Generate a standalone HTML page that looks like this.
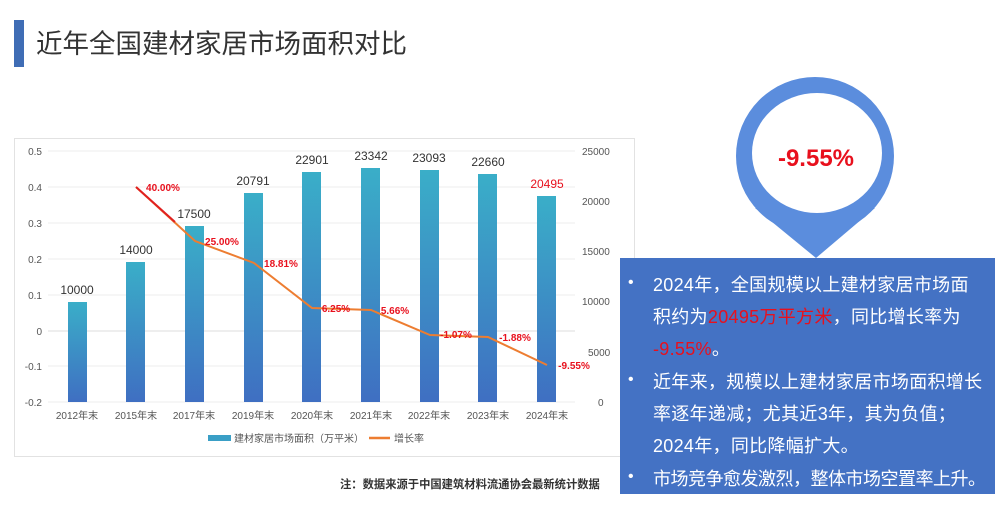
<!DOCTYPE html>
<html><head><meta charset="utf-8"><style>
body{margin:0;width:1003px;height:516px;background:#fff;overflow:hidden;position:relative;font-family:"Liberation Sans","Noto Sans CJK SC",sans-serif}
.t{position:absolute;left:36px;top:26px;font-size:26.5px;color:#333;line-height:36px;white-space:nowrap}
.bar{position:absolute;left:14px;top:20px;width:10px;height:47px;background:#3f6db5}
.box{position:absolute;left:620px;top:258px;width:375px;height:236px;background:#4472c4;color:#fff;font-size:18px}
.ln{position:absolute;left:33px;white-space:nowrap;letter-spacing:0.3px}
.bu{position:absolute;left:8px;font-size:16px}
.r{color:#e8101d}
.note{position:absolute;left:340px;top:476px;font-size:11.3px;font-weight:bold;color:#333;white-space:nowrap}
</style></head><body>
<div class="bar"></div>
<div class="t">近年全国建材家居市场面积对比</div>
<svg width="1003" height="516" style="position:absolute;left:0;top:0">
<defs><linearGradient id="g" x1="0" y1="0" x2="0" y2="1"><stop offset="0" stop-color="#3aaec8"/><stop offset="1" stop-color="#3f6fc2"/></linearGradient></defs>
<rect x="14.5" y="138.5" width="620" height="318" fill="#fff" stroke="#e2e2e2"/>
<g stroke="#ececec" stroke-width="1">
<line x1="48" x2="575" y1="151" y2="151"/><line x1="48" x2="575" y1="187" y2="187"/><line x1="48" x2="575" y1="223" y2="223"/><line x1="48" x2="575" y1="259" y2="259"/><line x1="48" x2="575" y1="295" y2="295"/><line x1="48" x2="575" y1="331" y2="331" stroke="#ddd"/><line x1="48" x2="575" y1="366" y2="366"/><line x1="48" x2="575" y1="402" y2="402"/>
</g>
<g font-size="10" fill="#555" text-anchor="end">
<text x="42" y="155">0.5</text><text x="42" y="191">0.4</text><text x="42" y="227">0.3</text><text x="42" y="263">0.2</text><text x="42" y="299">0.1</text><text x="42" y="335">0</text><text x="42" y="370">-0.1</text><text x="42" y="406">-0.2</text>
</g>
<g font-size="10" fill="#555" text-anchor="start">
<text x="582" y="155">25000</text><text x="582" y="205">20000</text><text x="582" y="255">15000</text><text x="582" y="305">10000</text><text x="588" y="356">5000</text><text x="598" y="406">0</text>
</g>
<g fill="url(#g)">
<rect x="68" y="302" width="19" height="100"/><rect x="126" y="262" width="19" height="140"/><rect x="185" y="226" width="19" height="176"/><rect x="244" y="193" width="19" height="209"/><rect x="302" y="172" width="19" height="230"/><rect x="361" y="168" width="19" height="234"/><rect x="420" y="170" width="19" height="232"/><rect x="478" y="174" width="19" height="228"/><rect x="537" y="196" width="19" height="206"/>
</g>
<g font-size="12" fill="#333" text-anchor="middle">
<text x="77" y="294">10000</text><text x="136" y="254">14000</text><text x="194" y="218">17500</text><text x="253" y="185">20791</text><text x="312" y="164">22901</text><text x="371" y="160">23342</text><text x="429" y="162">23093</text><text x="488" y="166">22660</text><text x="547" y="188" fill="#e8101d">20495</text>
</g>
<polyline fill="none" stroke="#ed7d31" stroke-width="2" points="136,187 195,241 254,263 312,308 371,310 430,335 488,337 547,365"/>
<polyline fill="none" stroke="#e02020" stroke-width="2" points="136,187 175,222"/>
<g font-size="10" fill="#e8101d" font-weight="bold" text-anchor="middle">
<text x="163" y="191">40.00%</text><text x="222" y="245">25.00%</text><text x="281" y="267">18.81%</text><text x="336" y="312">6.25%</text><text x="395" y="314">5.66%</text><text x="456" y="338">-1.07%</text><text x="515" y="341">-1.88%</text><text x="574" y="369">-9.55%</text>
</g>
<g font-size="10" fill="#555" text-anchor="middle">
<text x="77" y="419">2012年末</text><text x="136" y="419">2015年末</text><text x="194" y="419">2017年末</text><text x="253" y="419">2019年末</text><text x="312" y="419">2020年末</text><text x="371" y="419">2021年末</text><text x="429" y="419">2022年末</text><text x="488" y="419">2023年末</text><text x="547" y="419">2024年末</text>
</g>
<rect x="208" y="435" width="23" height="6" fill="#3a9fc6"/>
<text x="234" y="442" font-size="10" fill="#555">建材家居市场面积（万平米）</text>
<line x1="369" x2="390" y1="438" y2="438" stroke="#ed7d31" stroke-width="2.5"/>
<text x="394" y="442" font-size="10" fill="#555">增长率</text>
<circle cx="815" cy="156" r="79" fill="#5b8ddd"/>
<polygon points="755,208 875,208 816,258" fill="#5b8ddd"/>
<ellipse cx="817" cy="153" rx="65" ry="60" fill="#fff"/>
<text x="816" y="166" font-size="24" font-weight="bold" fill="#e8101d" text-anchor="middle">-9.55%</text>
</svg>
<div class="box">
<span class="bu" style="top:16px">•</span><div class="ln" style="top:13px">2024年，全国规模以上建材家居市场面</div>
<div class="ln" style="top:45px">积约为<span class="r">20495万平方米</span>，同比增长率为</div>
<div class="ln" style="top:77px"><span class="r">-9.55%</span>。</div>
<span class="bu" style="top:113px">•</span><div class="ln" style="top:110px">近年来，规模以上建材家居市场面积增长</div>
<div class="ln" style="top:142px">率逐年递减；尤其近3年，其为负值；</div>
<div class="ln" style="top:174px">2024年，同比降幅扩大。</div>
<span class="bu" style="top:210px">•</span><div class="ln" style="top:207px;letter-spacing:-0.5px">市场竞争愈发激烈，整体市场空置率上升。</div>
</div>
<div class="note">注：数据来源于中国建筑材料流通协会最新统计数据</div>
</body></html>
